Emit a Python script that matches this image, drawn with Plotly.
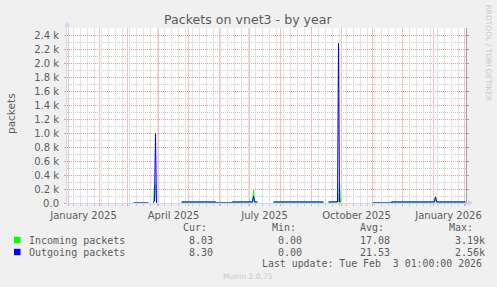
import plotly.graph_objects as go

# ---------------- data ----------------
x_start = "2024-12-30 12:00"
x_end = "2026-02-02 12:00"

in_dates = ["2025-03-07", "2025-03-22", "2025-03-23",
            "2025-03-27", "2025-03-28", "2025-03-29", "2025-03-30", "2025-03-31",
            "2025-04-24", "2025-05-28", "2025-05-29", "2025-06-13", "2025-06-14",
            "2025-07-04", "2025-07-05", "2025-07-06", "2025-07-09", "2025-07-10",
            "2025-07-25", "2025-09-13", "2025-09-14",
            "2025-09-18", "2025-09-27", "2025-09-28", "2025-09-29", "2025-09-30", "2025-10-01",
            "2025-11-01", "2025-11-19", "2025-11-20", "2026-01-02", "2026-01-03",
            "2026-01-04", "2026-02-02"]
in_vals = [0, 0, None,
           5, 250, 260, 5, None,
           12, 12, 0, 0, 12,
           12, 180, 12, 12, None,
           12, 12, None,
           12, 12, 20, 300, 5, None,
           0, 0, 12, 12, 100,
           12, 12]

out_dates = ["2025-03-07", "2025-03-22", "2025-03-23",
             "2025-03-27", "2025-03-28", "2025-03-29", "2025-03-30", "2025-03-31",
             "2025-04-24", "2025-05-28", "2025-05-29", "2025-06-13", "2025-06-14",
             "2025-07-04", "2025-07-05", "2025-07-06", "2025-07-09", "2025-07-10",
             "2025-07-25", "2025-09-13", "2025-09-14",
             "2025-09-18", "2025-09-27", "2025-09-28", "2025-09-29", "2025-09-30",
             "2025-11-01", "2025-11-19", "2025-11-20", "2026-01-02", "2026-01-03",
             "2026-01-04", "2026-02-02"]
out_vals = [0, 0, None,
            8, 20, 990, 5, None,
            15, 15, 0, 0, 15,
            15, 100, 15, 15, None,
            15, 15, None,
            15, 15, 2280, 10, None,
            0, 0, 15, 15, 85,
            15, 15]

y_tick_vals = [0, 200, 400, 600, 800, 1000, 1200, 1400, 1600, 1800, 2000, 2200, 2400]
y_tick_text = ["0.0", "0.2 k", "0.4 k", "0.6 k", "0.8 k", "1.0 k", "1.2 k",
               "1.4 k", "1.6 k", "1.8 k", "2.0 k", "2.2 k", "2.4 k"]
month_starts = ["2025-01-01", "2025-02-01", "2025-03-01", "2025-04-01", "2025-05-01",
                "2025-06-01", "2025-07-01", "2025-08-01", "2025-09-01", "2025-10-01",
                "2025-11-01", "2025-12-01", "2026-01-01", "2026-02-01"]
month_text = ["January 2025", "", "", "April 2025", "", "", "July 2025", "", "",
              "October 2025", "", "", "January 2026", ""]

legend_names = ["Incoming packets", "Outgoing packets"]
legend_colors = ["#00FF00", "#0000FF"]
cur_vals = ["8.03", "8.30"]
min_vals = ["0.00", "0.00"]
avg_vals = ["17.08", "21.53"]
max_vals = ["3.19k", "2.56k"]
last_update = "Last update: Tue Feb\u00a0\u00a03 01:00:00 2026"

# ---------------- layout geometry ----------------
W, H = 497, 287
L, R, T, B = 67, 31, 28, 84
PW = W - L - R
PH = H - T - B


def px(x):
    return (x - L) / PW


def py(y):
    return (H - B - y) / PH


FONT = "#5c5c5c"
MONO = "DejaVu Sans Mono"
SANS = "DejaVu Sans"
RED_GRID = "#E89A9A"
GRAY_GRID = "#C8C8C8"
RED_VGRID = "#F1C2C2"
GRAY_VGRID = "#E4E4E4"
AXIS = "#CFD6F8"
DOT = "1px,1px"

fig = go.Figure()
fig.add_trace(go.Scatter(x=in_dates, y=in_vals, mode="lines", name=legend_names[0],
                         line=dict(color=legend_colors[0], width=1), connectgaps=False,
                         showlegend=False, hoverinfo="skip"))
fig.add_trace(go.Scatter(x=out_dates, y=out_vals, mode="lines", name=legend_names[1],
                         line=dict(color=legend_colors[1], width=1), connectgaps=False,
                         showlegend=False, hoverinfo="skip"))
# invisible trace to carry the month axis and right axis
fig.add_trace(go.Scatter(x=[x_start], y=[None], xaxis="x2", yaxis="y2", showlegend=False,
                         hoverinfo="skip"))

fig.update_layout(
    width=W, height=H,
    margin=dict(l=L, r=R, t=T, b=B, pad=0),
    paper_bgcolor="#F0F0F0", plot_bgcolor="#FFFFFF",
    showlegend=False,
    # weekly grid (base axis)
    xaxis=dict(
        type="date", range=[x_start, x_end], tickmode="linear", tick0="2024-12-30",
        dtick=7 * 86400000, automargin=False,
        showgrid=True, gridcolor=GRAY_VGRID, gridwidth=1,
        showticklabels=False, ticks="outside", ticklen=2, tickcolor=GRAY_GRID,
        showline=True, linecolor=AXIS, linewidth=1, zeroline=False,
        layer="below traces",
    ),
    # monthly grid + quarter labels
    xaxis2=dict(
        type="date", range=[x_start, x_end], overlaying="x", side="bottom", automargin=False,
        tickmode="array", tickvals=month_starts, ticktext=month_text,
        showgrid=True, gridcolor=RED_VGRID, gridwidth=1,
        zeroline=False, showline=False, ticks="outside", ticklen=2, tickcolor=RED_GRID,
        ticklabelshift=15, ticklabelstandoff=1,
        tickfont=dict(family=SANS, size=10, color=FONT),
    ),
    yaxis=dict(
        range=[0, 2500], tickmode="array", tickvals=y_tick_vals, ticktext=y_tick_text,
        showgrid=True, gridcolor=RED_GRID, griddash=DOT, gridwidth=1, automargin=False,
        ticks="outside", ticklen=2, tickcolor=RED_GRID,
        showline=True, linecolor=AXIS, linewidth=1, zeroline=False,
        layer="below traces", ticklabelstandoff=3,
        tickfont=dict(family=SANS, size=10, color=FONT),
        minor=dict(tickmode="linear", tick0=0, dtick=100, showgrid=True,
                   gridcolor=GRAY_GRID, griddash=DOT, gridwidth=1),
    ),
    yaxis2=dict(
        range=[0, 2500], overlaying="y", side="right", tickmode="array", automargin=False,
        tickvals=y_tick_vals, showticklabels=False, showgrid=False, zeroline=False,
        showline=True, linecolor="#A0A0A0", linewidth=1, ticks="outside", ticklen=2,
        tickcolor="#A0A0A0",
    ),
)

ann = []
ann.append(dict(text="Packets on vnet3 - by year", x=px(248.5), y=py(19), xref="paper", yref="paper",
                showarrow=False, xanchor="center", yanchor="middle",
                font=dict(family=SANS, size=12.6, color=FONT)))
ann.append(dict(text="packets", x=px(11), y=py(114), xref="paper", yref="paper", textangle=-90,
                showarrow=False, xanchor="center", yanchor="middle",
                font=dict(family=SANS, size=10.5, color=FONT)))
ann.append(dict(text="RRDTOOL / TOBI OETIKER", x=px(488.5), y=py(53), xref="paper", yref="paper",
                textangle=90, showarrow=False, xanchor="center", yanchor="middle",
                font=dict(family=SANS, size=7.5, color="#C8C8C8")))

# legend block
headers = [("Cur:", 181), ("Min:", 270), ("Avg:", 358), ("Max:", 447)]
for txt, x in headers:
    ann.append(dict(text=txt, x=px(x), y=py(227), xref="paper", yref="paper", showarrow=False,
                    xanchor="left", yanchor="middle", font=dict(family=MONO, size=10, color=FONT)))
row_y = [240, 252]
for i in range(2):
    cols = [(legend_names[i], 27), (cur_vals[i], 187), (min_vals[i], 276),
            (avg_vals[i], 358), (max_vals[i], 453)]
    for txt, x in cols:
        ann.append(dict(text=txt, x=px(x), y=py(row_y[i]), xref="paper", yref="paper",
                        showarrow=False, xanchor="left", yanchor="middle",
                        font=dict(family=MONO, size=10, color=FONT)))
ann.append(dict(text=last_update, x=px(260), y=py(263), xref="paper", yref="paper",
                showarrow=False, xanchor="left", yanchor="middle",
                font=dict(family=MONO, size=9.9, color=FONT)))
ann.append(dict(text="Munin 2.0.75", x=px(248), y=py(276), xref="paper", yref="paper",
                showarrow=False, xanchor="center", yanchor="middle",
                font=dict(family=SANS, size=7.6, color="#C8C8C8")))
fig.update_layout(annotations=ann)

shapes = []
for i in range(2):
    shapes.append(dict(type="rect", xref="paper", yref="paper",
                       x0=px(14), x1=px(20.5), y0=py(row_y[i] + 3.2), y1=py(row_y[i] - 3.2),
                       fillcolor=legend_colors[i], line=dict(width=0)))
# axis arrows
shapes.append(dict(type="line", xref="paper", yref="paper", x0=1, x1=px(469),
                   y0=0, y1=0, line=dict(color=AXIS, width=1)))
shapes.append(dict(type="path", xref="paper", yref="paper",
                   path=f"M {px(468)} {py(200)} L {px(473)} {py(203)} L {px(468)} {py(206)} Z",
                   fillcolor=AXIS, line=dict(width=0)))
shapes.append(dict(type="path", xref="paper", yref="paper",
                   path=f"M {px(64)} {py(27)} L {px(67)} {py(22)} L {px(70)} {py(27)} Z",
                   fillcolor=AXIS, line=dict(width=0)))
fig.update_layout(shapes=shapes)

fig.write_html("out.html")
